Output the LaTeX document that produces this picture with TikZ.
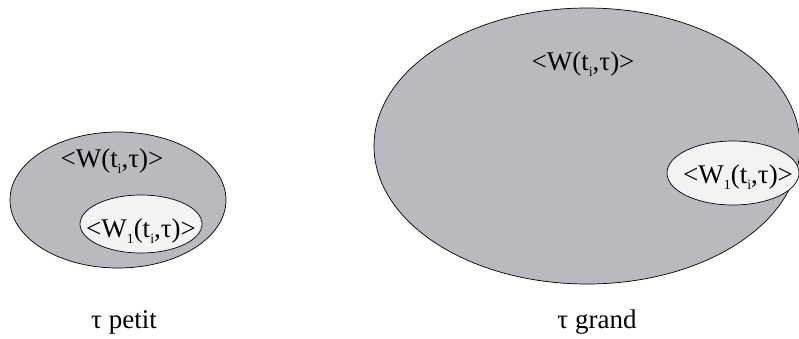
\documentclass[tikz,border=0pt]{standalone}
\usepackage{fontspec}
\setmainfont{Liberation Serif}
\usetikzlibrary{shapes.geometric}

\definecolor{bodygray}{RGB}{185,186,191}
\definecolor{corewhite}{RGB}{242,243,245}
\newcommand{\idx}[1]{\raisebox{-0.55ex}{\fontsize{14}{14}\selectfont #1}}

\begin{document}
\begin{tikzpicture}[
    x=1pt, y=-1pt,
    outer/.style={ellipse, draw=black, fill=bodygray, line width=0.7pt, inner sep=0pt},
    inner/.style={ellipse, draw=black, fill=corewhite, line width=0.7pt, inner sep=0pt},
    lbl/.style={anchor=base, inner sep=0pt, font=\fontsize{27}{27}\selectfont}]

    \useasboundingbox (0,0) rectangle (799,338);

    % small tau
    \node[outer, minimum width=216pt, minimum height=136pt] (s) at (118,200) {};
    \node[lbl] (sw) at (112,167) {<W(t\idx{i},τ)>};
    \node[inner, minimum width=122pt, minimum height=58pt] (s1) at (141,224) {};
    \node[lbl] (s1w) at (141,237) {<W\idx{1}(t\idx{i},τ)>};
    \node[lbl] (st) at (124,328) {τ petit};

    % large tau
    \node[outer, minimum width=426pt, minimum height=276pt] (g) at (587,146) {};
    \node[lbl] (gw) at (583,70) {<W(t\idx{i},τ)>};
    \node[inner, minimum width=132pt, minimum height=64pt] (g1) at (733,173) {};
    \node[lbl] (g1w) at (738,183) {<W\idx{1}(t\idx{i},τ)>};
    \node[lbl] (gt) at (597,328) {τ grand};
  \end{tikzpicture}
\end{document}
